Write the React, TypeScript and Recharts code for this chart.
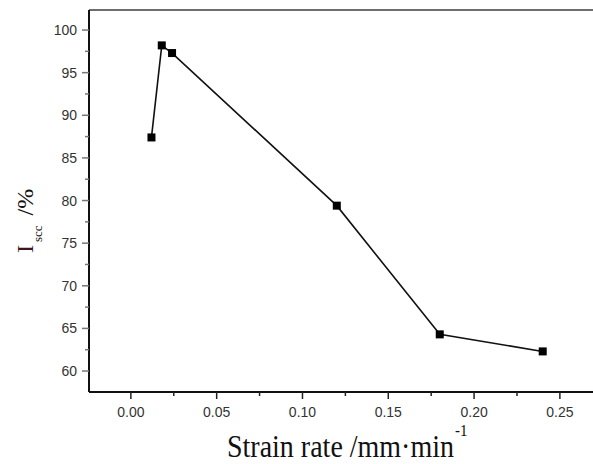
import React from 'react'
import { LineChart, Line, XAxis, YAxis, ReferenceLine, Label } from 'recharts'

// measured values
const strainRate = [0.012, 0.018, 0.024, 0.12, 0.18, 0.24]
const iscc = [87.4, 98.2, 97.3, 79.4, 64.3, 62.3]

const xTicks = [0, 0.025, 0.05, 0.075, 0.1, 0.125, 0.15, 0.175, 0.2, 0.225, 0.25]
const yTicks = [60, 62.5, 65, 67.5, 70, 72.5, 75, 77.5, 80, 82.5, 85, 87.5, 90, 92.5, 95, 97.5, 100]

const X_DOMAIN: [number, number] = [-0.0244, 0.2693]
const Y_DOMAIN: [number, number] = [57.54, 102.35]

const data = strainRate.map((x, i) => ({ x, y: iscc[i] }))

const TICK_FONT = '"Liberation Sans", Arial, sans-serif'
const TITLE_FONT = '"Liberation Serif", "Times New Roman", serif'

function isMajor(v: number, step: number) {
  const r = v / step
  return Math.abs(r - Math.round(r)) < 1e-6
}

function XTick({ x, y, payload }: any) {
  const v = payload.value as number
  const major = isMajor(v, 0.05)
  return (
    <g>
      <line x1={x} x2={x} y1={y} y2={y + (major ? 7 : 4)} stroke="#222" strokeWidth={1.5} />
      {major && (
        <text x={x} y={y + 25} textAnchor="middle" fontSize={14} fill="#333" fontFamily={TICK_FONT}>
          {v.toFixed(2)}
        </text>
      )}
    </g>
  )
}

function YTick({ x, y, payload }: any) {
  const v = payload.value as number
  const major = isMajor(v, 5)
  return (
    <g>
      <line x1={x - (major ? 7 : 4)} x2={x} y1={y} y2={y} stroke="#777" strokeWidth={1.5} />
      {major && (
        <text x={x - 12} y={y + 5} textAnchor="end" fontSize={14} fill="#333" fontFamily={TICK_FONT}>
          {v}
        </text>
      )}
    </g>
  )
}

function SquareDot({ cx, cy }: any) {
  if (cx == null || cy == null) return null
  return <rect x={cx - 4} y={cy - 4} width={8} height={8} fill="#000" />
}

function XTitle() {
  return (
    <g transform="translate(0,457) scale(1,1.12) translate(0,-457)">
      <text x={227} y={457} fontSize={28} fill="#111" fontFamily={TITLE_FONT}>
        Strain rate /mm·min
        <tspan fontSize={15} dy={-19} dx={1}>-1</tspan>
      </text>
    </g>
  )
}

function YTitle() {
  return (
    <text transform="rotate(-90)" x={-253} y={33} fill="#111" fontFamily={TITLE_FONT}>
      <tspan fontSize={24} fill="#3a1822">I</tspan>
      <tspan fontSize={13} dy={9} dx={3}>scc</tspan>
      <tspan fontSize={24} dy={-9} dx={10}>/%</tspan>
    </text>
  )
}

export default function App() {
  return (
    <div style={{ position: 'absolute', left: 0, top: 0, background: '#fff' }}>
      <LineChart width={593} height={464} data={data} margin={{ top: 10, right: 0, bottom: 0, left: 0 }}>
        <XAxis
          type="number"
          dataKey="x"
          domain={X_DOMAIN}
          allowDataOverflow
          ticks={xTicks}
          interval={0}
          height={72}
          tickSize={0}
          tickMargin={0}
          tickLine={false}
          tick={<XTick />}
          axisLine={{ stroke: '#111', strokeWidth: 2 }}
        >
          <Label content={<XTitle />} />
        </XAxis>
        <YAxis
          type="number"
          domain={Y_DOMAIN}
          allowDataOverflow
          ticks={yTicks}
          interval={0}
          width={89}
          tickSize={0}
          tickMargin={0}
          tickLine={false}
          tick={<YTick />}
          axisLine={{ stroke: '#111', strokeWidth: 2 }}
        >
          <Label content={<YTitle />} />
        </YAxis>
        <ReferenceLine y={Y_DOMAIN[1]} stroke="#6d6d6d" strokeWidth={2} ifOverflow="visible" />
        <Line
          dataKey="y"
          stroke="#111"
          strokeWidth={1.6}
          dot={<SquareDot />}
          activeDot={false}
          isAnimationActive={false}
        />
      </LineChart>
    </div>
  )
}
